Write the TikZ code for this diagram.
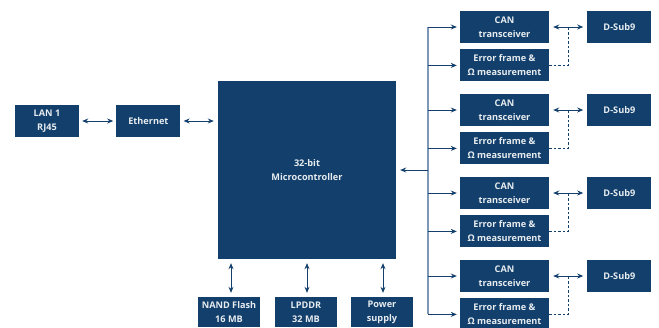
\documentclass[tikz,border=0pt]{standalone}
\usepackage{fontspec}
\setmainfont{Open Sans}
\usetikzlibrary{arrows.meta,positioning,calc}
\definecolor{boxblue}{HTML}{123F6B}
\definecolor{busblue}{HTML}{7C98B6}

\begin{document}
\begin{tikzpicture}[
  x=1bp, y=-1bp,
  font=\fontsize{9.2}{13.8}\selectfont\bfseries,
  blk/.style={fill=boxblue, text=white!90!boxblue, minimum height=32bp, minimum width=64bp, align=center, inner sep=1bp},
  arr/.style={-{Stealth[length=6bp,width=5bp]}, boxblue, line width=0.9bp},
  darr/.style={{Stealth[length=6bp,width=5bp]}-{Stealth[length=6bp,width=5bp]}, boxblue, line width=0.9bp},
  bus/.style={busblue, line width=1.6bp},
]
\useasboundingbox (0,0) rectangle (659,327);

% ================= left side =================
\node[blk] (lan) at (47,121) {LAN 1\\RJ45};
\node[blk, right=37bp of lan] (eth) {Ethernet};
\node[blk, minimum width=178bp, minimum height=178bp] (mcu) at (307,170) {32-bit\\Microcontroller};

\draw[darr, shorten <=3bp, shorten >=3bp] (lan) -- (eth);
\draw[darr, shorten <=3bp, shorten >=4bp] (eth) -- (mcu.west |- eth);

% ================= memory and supply =================
\node[blk, minimum height=30bp, minimum width=62bp] (nand) at (229,312) {NAND Flash\\16 MB};
\node[blk, minimum height=30bp, minimum width=62bp] (lpddr) at (306,312) {LPDDR\\32 MB};
\node[blk, minimum height=30bp, minimum width=62bp] (pwr) at (382,312) {Power\\supply};

\foreach \n/\xx in {nand/231, lpddr/307, pwr/383}
  \draw[darr, shorten <=4bp, shorten >=4bp] (\xx,0 |- mcu.south) -- (\xx,0 |- \n.north);

% ================= CAN channels =================
\coordinate (bustop) at (428,27);
\coordinate (busbot) at (428,314);
\draw[bus] (bustop) -- (busbot);
\draw[arr, shorten >=4bp] (mcu.east -| bustop) -- (mcu.east);

\foreach \i in {0,...,3}{
  \node[blk, minimum width=89bp] (can\i) at (504.5,27+83*\i) {CAN\\transceiver};
  \node[blk, minimum width=89bp, below=6bp of can\i] (err\i) {Error frame \&\\Ω measurement};
  \node[blk, right=38bp of can\i] (dsub\i) {D-Sub9};

  \draw[arr, shorten >=3bp] (can\i.west -| bustop) -- (can\i.west);
  \draw[arr, shorten >=3bp] (err\i.west -| bustop) -- (err\i.west);
  \draw[darr, shorten <=4bp, shorten >=4bp] (can\i) -- (dsub\i);
  % fault line to the bus connection
  \draw[boxblue, line width=0.9bp, dash pattern=on 2.5bp off 2bp]
    (err\i.east) -| ($(can\i.east)!0.5!(dsub\i.west)$);
}

\end{tikzpicture}
\end{document}
